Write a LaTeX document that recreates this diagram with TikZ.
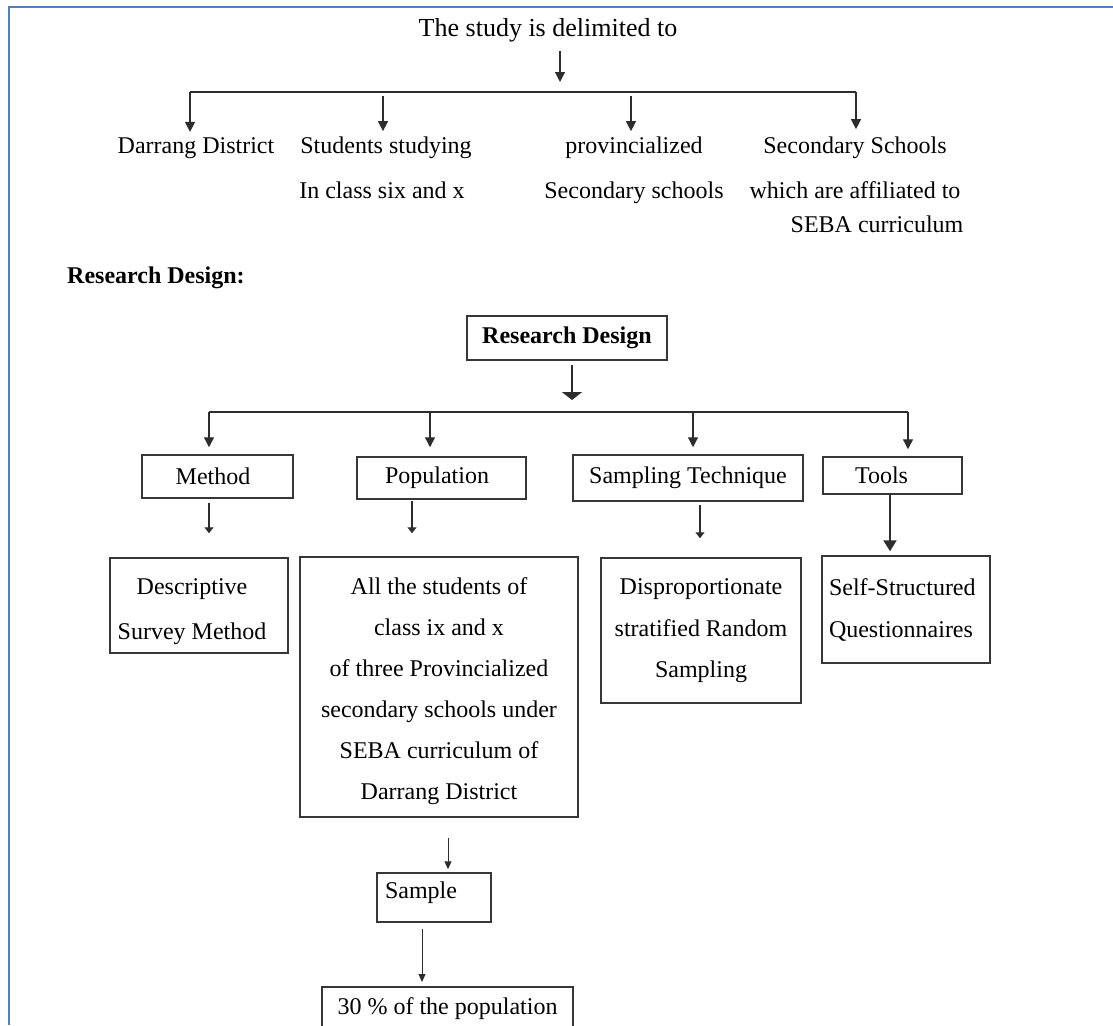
\documentclass[tikz,border=0pt]{standalone}
\usepackage{fontspec}
\setmainfont{Liberation Serif}
\usetikzlibrary{arrows.meta}
\definecolor{linec}{RGB}{45,45,45}
\definecolor{boxc}{RGB}{55,55,55}
\definecolor{framec}{RGB}{79,129,189}
\tikzset{
  txt/.style={inner sep=0pt, anchor=base, font=\fontsize{24}{28}\selectfont},
  bx/.style={draw=boxc, line width=1.5pt, inner sep=0pt, align=center},
  bar/.style={draw=linec, line width=1.8pt},
  aone/.style={draw=linec, line width=1.3pt, -{Triangle[width=10pt,length=10pt]}},
  ard/.style={draw=linec, line width=2pt, -{Triangle[width=20pt,length=8pt]}},
  atwo/.style={draw=linec, line width=1.3pt, -{Triangle[width=9pt,length=6pt]}},
  atool/.style={draw=linec, line width=2pt, -{Triangle[width=13pt,length=11pt]}},
  athree/.style={draw=linec, line width=1pt, -{Triangle[width=7pt,length=8pt]}},
}
\begin{document}
\begin{tikzpicture}[x=1pt,y=-1pt]
\useasboundingbox (0,0) rectangle (1113,1025);
\fill[white] (0,0) rectangle (1113,1025);
% frame
\coordinate (fr1) at (1113,7);
\coordinate (fr2) at (9,7);
\coordinate (fr3) at (9,1025);
\draw[draw=framec, line width=2pt] (fr1) -- (fr2) -- (fr3);

% ---------- top section ----------
\node[txt, font=\fontsize{26}{28}\selectfont] (title) at (548,37) {The study is delimited to};
\node[txt] (l1) at (196,153) {Darrang District};
\node[txt] (l2a) at (386,153) {Students studying};
\node[txt] (l2b) at (382,198) {In class six and x};
\node[txt] (l3a) at (634,153) {provincialized};
\node[txt] (l3b) at (634,198) {Secondary schools};
\node[txt] (l4a) at (855,153) {Secondary Schools};
\node[txt] (l4b) at (855,198) {which are affiliated to};
\node[txt] (l4c) at (877,232) {SEBA curriculum};

\coordinate (hub) at (560,92);
\coordinate (d1) at (190,92);
\coordinate (d2) at (383,92);
\coordinate (d3) at (631,92);
\coordinate (d4) at (856,92);
\draw[aone, shorten <=8pt, shorten >=10pt] (title.south -| hub) -- (hub);
\draw[bar] (d1) -- (d4);
\draw[aone, shorten >=5pt] (d1) -- (l1.north -| d1);
\draw[aone, shorten <=4pt, shorten >=5pt] (d2) -- (l2a.north -| d2);
\draw[aone, shorten <=4pt, shorten >=5pt] (d3) -- (l3a.north -| d3);
\draw[aone, shorten >=7pt] (d4) -- (l4a.north -| d4);

% ---------- research design ----------
\node[txt, anchor=base west, font=\bfseries\fontsize{24}{28}\selectfont] (rdlabel) at (67,283) {Research Design:};

\node[bx, font=\bfseries\fontsize{24}{28}\selectfont, minimum width=200pt, minimum height=44pt] (rd) at (567,338) {Research Design};

\coordinate (hub2) at (572,412);
\coordinate (e1) at (209,412);
\coordinate (e2) at (430,412);
\coordinate (e3) at (693,412);
\coordinate (e4) at (908,412);
\draw[ard, shorten <=4pt, shorten >=12pt] (rd.south -| hub2) -- (hub2);
\draw[bar] (e1) -- (e4);

\node[bx, font=\fontsize{24}{28}\selectfont, minimum width=151pt, minimum height=43pt] (method) at (217.5,476.5) {Method\rule{9pt}{0pt}};
\node[bx, font=\fontsize{24}{28}\selectfont, minimum width=169pt, minimum height=42pt] (pop) at (441.5,478) {Population\rule{9pt}{0pt}};
\node[bx, font=\fontsize{24}{28}\selectfont, minimum width=230pt, minimum height=46pt] (samp) at (688,478) {Sampling Technique};
\node[bx, font=\fontsize{24}{28}\selectfont, minimum height=37pt, inner xsep=32pt, text width=75pt, align=left] (tools) at (892.5,475.5) {Tools};

\draw[aone, shorten >=7pt] (e1) -- (method.north -| e1);
\draw[aone, shorten >=9pt] (e2) -- (pop.north -| e2);
\draw[aone, shorten >=7pt] (e3) -- (samp.north -| e3);
\draw[aone, shorten >=7pt] (e4) -- (tools.north -| e4);

\node[bx, font=\fontsize{24}{45}\selectfont, minimum width=178pt, minimum height=95pt] (desc) at (199,605.5) {\rule{0pt}{29pt}Descriptive\rule{14pt}{0pt}\\Survey Method\rule{14pt}{0pt}};
\node[bx, font=\fontsize{24}{41}\selectfont, minimum width=278pt, minimum height=260pt] (pop2) at (439,687) {\rule{0pt}{26pt}All the students of\\class ix and x\\of three Provincialized\\secondary schools under\\SEBA curriculum of\\Darrang District};
\node[bx, font=\fontsize{24}{41.5}\selectfont, minimum width=200pt, minimum height=145pt] (disp) at (701,630.5) {\rule{0pt}{17pt}Disproportionate\\stratified Random\\Sampling};
\node[bx, font=\fontsize{24}{42}\selectfont, minimum height=107pt, inner xsep=7pt, text width=154pt, align=left] (self) at (906,609.5) {Self-Structured\\Questionnaires};

\coordinate (g1) at (209,0);
\coordinate (g2) at (412,0);
\coordinate (g3) at (700,0);
\coordinate (g4) at (890,0);
\draw[atwo, shorten <=4pt, shorten >=24pt] (method.south -| g1) -- (desc.north -| g1);
\draw[atwo, shorten <=1pt, shorten >=23pt] (pop.south -| g2) -- (pop2.north -| g2);
\draw[atwo, shorten <=3pt, shorten >=19pt] (samp.south -| g3) -- (disp.north -| g3);
\draw[atool, shorten >=4pt] (tools.south -| g4) -- (self.north -| g4);

% ---------- sample ----------
\node[bx, font=\fontsize{24}{28}\selectfont, minimum height=49pt, inner xsep=8pt, text width=98pt, align=left, text height=16pt, text depth=15pt] (sample) at (434,897.5) {Sample};
\node[bx, font=\fontsize{24}{28}\selectfont, minimum width=251pt, inner ysep=11pt, anchor=north] (last) at (447.5,986) {30 \% of the population};

\coordinate (h1) at (448,0);
\coordinate (h2) at (422,0);
\draw[athree, shorten <=20pt, shorten >=3pt] (pop2.south -| h1) -- (sample.north -| h1);
\draw[athree, shorten <=6pt, shorten >=4pt] (sample.south -| h2) -- (last.north -| h2);
\end{tikzpicture}
\end{document}
